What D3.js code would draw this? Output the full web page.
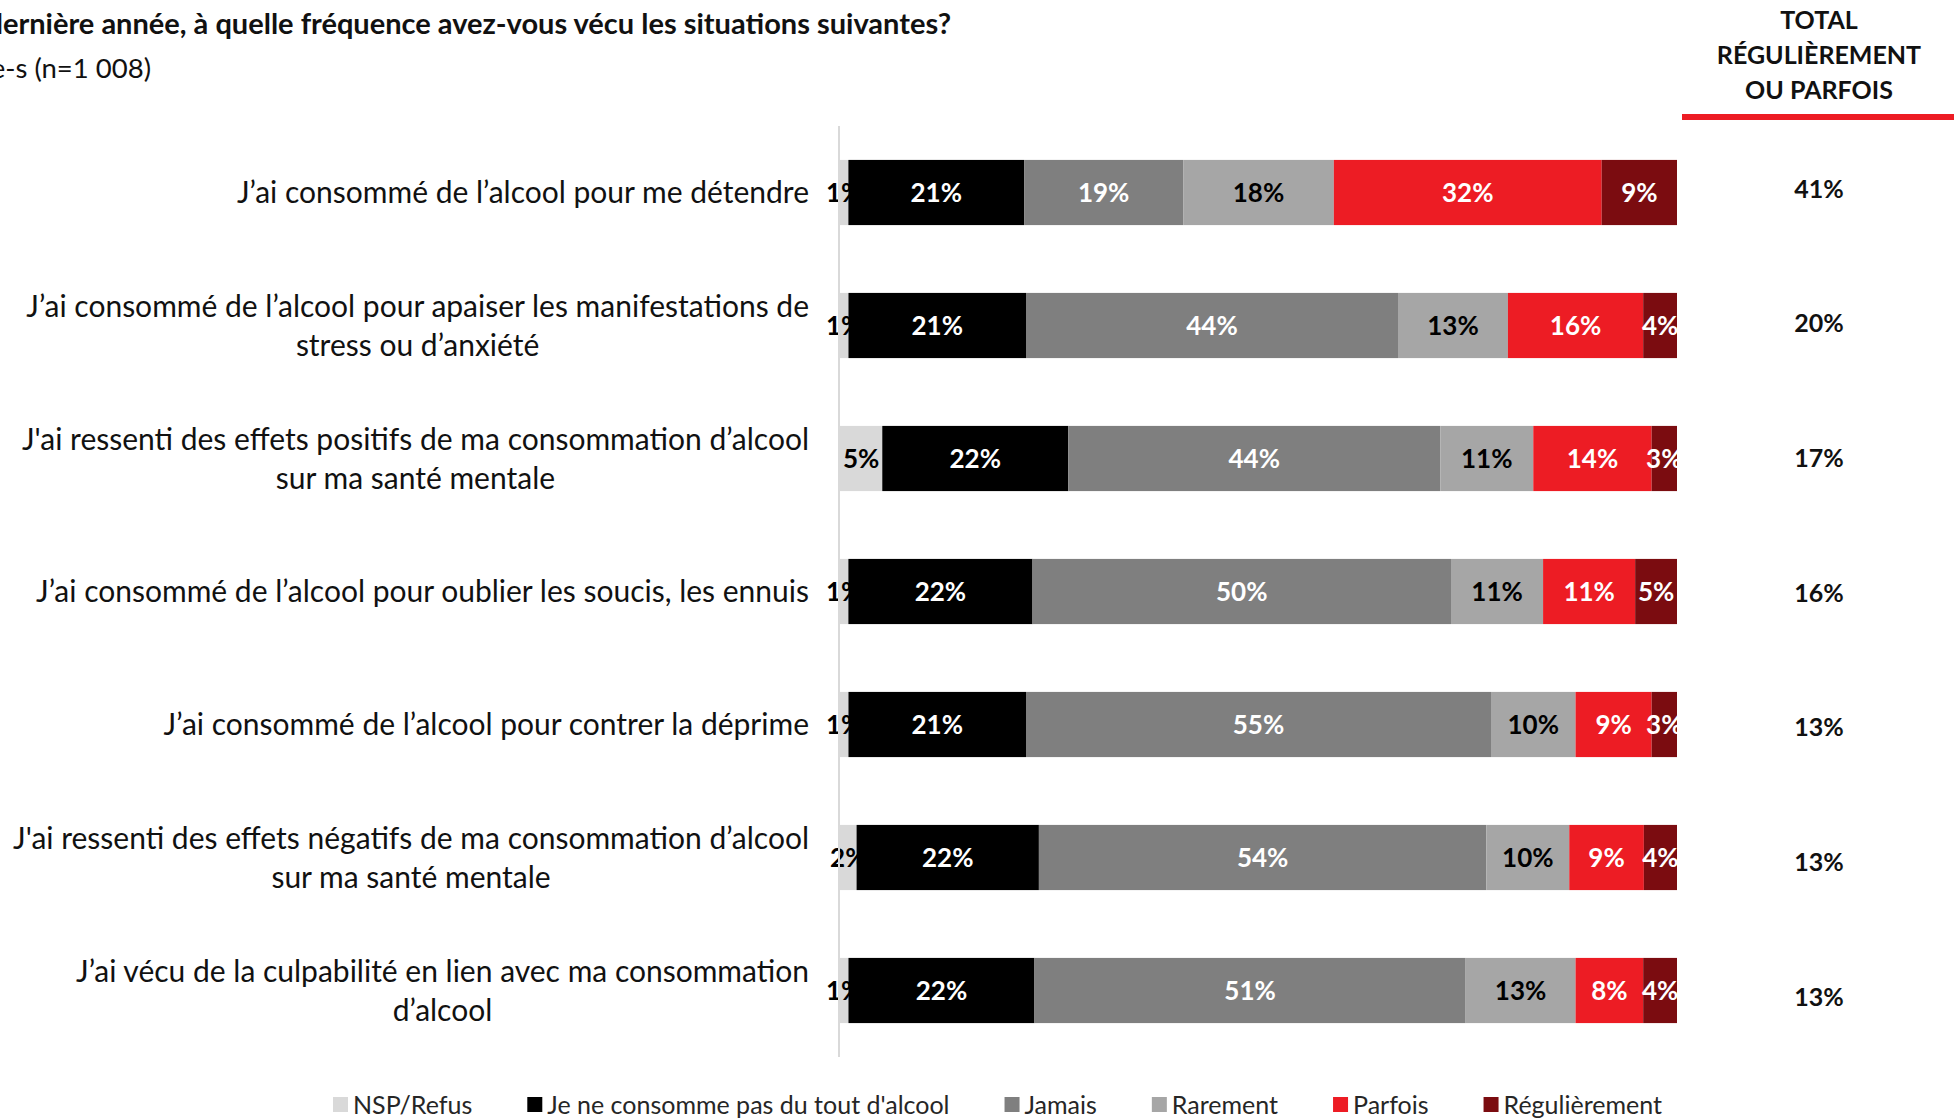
<!DOCTYPE html>
<html>
<head>
<meta charset="utf-8">
<script src="https://cdn.jsdelivr.net/npm/d3@7"></script>
<style>
  body { margin: 0; background: #fff; }
  text { font-family: Lato, "Open Sans", sans-serif; }
</style>
</head>
<body>
<svg id="chart" width="1954" height="1120"></svg>
<script>
// data
const categories = [
  ["J’ai consommé de l’alcool pour me détendre"],
  ["J’ai consommé de l’alcool pour apaiser les manifestations de", "stress ou d’anxiété"],
  ["J'ai ressenti des effets positifs de ma consommation d’alcool", "sur ma santé mentale"],
  ["J’ai consommé de l’alcool pour oublier les soucis, les ennuis"],
  ["J’ai consommé de l’alcool pour contrer la déprime"],
  ["J'ai ressenti des effets négatifs de ma consommation d’alcool", "sur ma santé mentale"],
  ["J’ai vécu de la culpabilité en lien avec ma consommation", "d’alcool"]
];
const seriesNames = ["NSP/Refus", "Je ne consomme pas du tout d'alcool", "Jamais", "Rarement", "Parfois", "Régulièrement"];
const nsp = [1, 1, 5, 1, 1, 2, 1];
const neConsommePas = [21, 21, 22, 22, 21, 22, 22];
const jamais = [19, 44, 44, 50, 55, 54, 51];
const rarement = [18, 13, 11, 11, 10, 10, 13];
const parfois = [32, 16, 14, 11, 9, 9, 8];
const regulierement = [9, 4, 3, 5, 3, 4, 4];
const totals = [41, 20, 17, 16, 13, 13, 13];
const totalHeader = ["TOTAL", "RÉGULIÈREMENT", "OU PARFOIS"];

const colors = ["#d9d9d9", "#000000", "#7f7f7f", "#a6a6a6", "#ed1c24", "#7b0c10"];
const labelColors = ["#000", "#fff", "#fff", "#000", "#fff", "#fff"];

const series = [nsp, neConsommePas, jamais, rarement, parfois, regulierement];
const rows = categories.map((c, i) => {
  const r = { idx: i };
  seriesNames.forEach((s, j) => r[s] = series[j][i]);
  return r;
});

const svg = d3.select("#chart");

const x = d3.scaleLinear().domain([0, 1]).range([840, 1677]);
const y = d3.scaleBand().domain(d3.range(categories.length)).range([126, 1057])
  .paddingInner(0.51).paddingOuter(0.255);
const yTot = d3.scalePoint().domain(d3.range(categories.length)).range([189, 997]);

const stacked = d3.stack().keys(seriesNames).offset(d3.stackOffsetExpand)(rows);

// title (cut at the left edge like the reference)
svg.append("text")
  .attr("x", 951).attr("y", 34)
  .attr("text-anchor", "end")
  .style("font-size", "29px").style("font-weight", "bold").attr("fill", "#111")
  .text("Au cours de la dernière année, à quelle fréquence avez-vous vécu les situations suivantes?");
svg.append("text")
  .attr("x", 151).attr("y", 78)
  .attr("text-anchor", "end")
  .style("font-size", "27.5px").attr("fill", "#111")
  .text("Base : ensemble des répondant-e-s (n=1 008)");

svg.append("defs").append("clipPath").attr("id", "plotClip")
  .append("rect").attr("x", 0).attr("y", 0).attr("width", 1677).attr("height", 1120);

const plot = svg.append("g").attr("clip-path", "url(#plotClip)");

stacked.forEach((layer, j) => {
  const g = plot.append("g");
  g.selectAll("rect").data(layer).join("rect")
    .attr("x", d => x(d[0]))
    .attr("y", (d, i) => y(i))
    .attr("width", d => x(d[1]) - x(d[0]))
    .attr("height", y.bandwidth())
    .attr("fill", colors[j]);
  g.selectAll("text").data(layer).join("text")
    .attr("x", d => (x(d[0]) + x(d[1])) / 2)
    .attr("y", (d, i) => y(i) + y.bandwidth() / 2)
    .attr("dy", "0.36em")
    .attr("text-anchor", "middle")
    .style("font-size", "26px").style("font-weight", "bold")
    .attr("fill", labelColors[j])
    .text(d => d.data[seriesNames[j]] + "%");
});

// vertical axis line
svg.append("line")
  .attr("x1", 839).attr("x2", 839)
  .attr("y1", y.range()[0]).attr("y2", y.range()[1])
  .attr("stroke", "#d9d9d9").attr("stroke-width", 2);

// category labels, wrapped lines centred, block right-aligned
categories.forEach((lines, i) => {
  const g = svg.append("g");
  const lh = 39;
  const cy = y(i) + y.bandwidth() / 2;
  const texts = lines.map((l, k) => g.append("text")
    .attr("y", cy + (k - (lines.length - 1) / 2) * lh)
    .attr("dy", "0.35em")
    .style("font-size", "30px").attr("fill", "#111")
    .text(l));
  const w = d3.max(texts, t => t.node().getComputedTextLength());
  texts.forEach(t => t.attr("x", 809 - w / 2).attr("text-anchor", "middle"));
});

// total column
svg.selectAll(".hdr").data(totalHeader).join("text")
  .attr("class", "hdr")
  .attr("x", 1819).attr("y", (d, i) => 29 + i * 35)
  .attr("text-anchor", "middle")
  .style("font-size", "25px").style("font-weight", "bold").attr("fill", "#111")
  .text(d => d);
svg.append("rect").attr("x", 1682).attr("y", 114).attr("width", 272).attr("height", 6).attr("fill", "#ed1c24");

svg.selectAll(".tot").data(totals).join("text")
  .attr("class", "tot")
  .attr("x", 1819).attr("y", (d, i) => yTot(i))
  .attr("dy", "0.35em")
  .attr("text-anchor", "middle")
  .style("font-size", "25px").style("font-weight", "bold").attr("fill", "#111")
  .text(d => d + "%");

// legend
const legend = svg.append("g").attr("transform", "translate(333,1105)");
let lx = 0;
seriesNames.forEach((s, j) => {
  legend.append("rect").attr("x", lx).attr("y", -8).attr("width", 15).attr("height", 15).attr("fill", colors[j]);
  const t = legend.append("text").attr("x", lx + 20).attr("y", 0).attr("dy", "0.35em")
    .style("font-size", "25px").attr("fill", "#262626").text(s);
  lx += 20 + t.node().getComputedTextLength() + 55;
});
</script>
</body>
</html>
